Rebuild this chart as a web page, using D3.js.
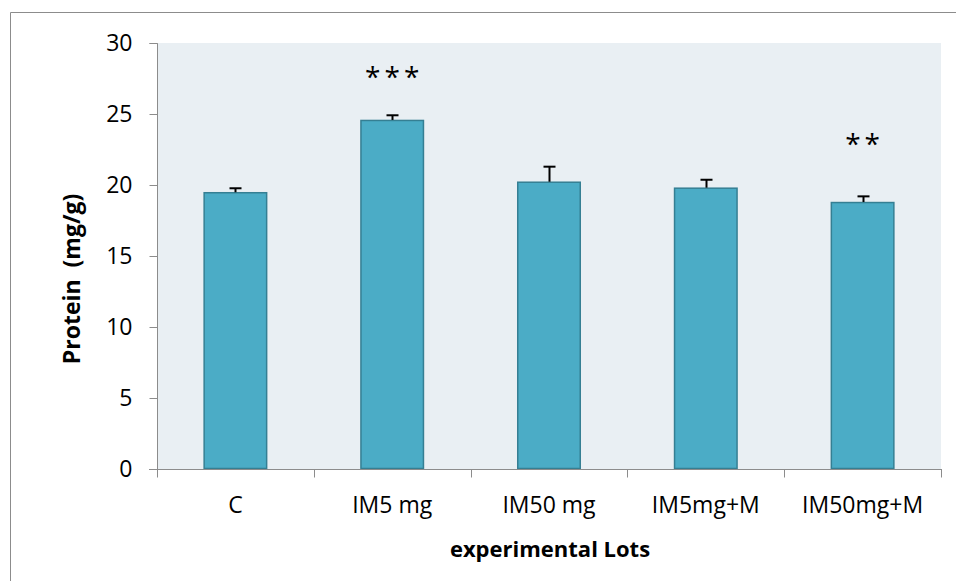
<!DOCTYPE html>
<html>
<head>
<meta charset="utf-8">
<script src="https://cdn.jsdelivr.net/npm/d3@7"></script>
<style>
  html, body { margin: 0; padding: 0; background: #ffffff; }
  svg { display: block; }
  text { font-family: "Open Sans", "Liberation Sans", sans-serif; fill: #000; }
</style>
</head>
<body>
<svg id="chart" width="956" height="581"></svg>
<script>
// Protein content per experimental lot (mean ± error)
const categories = ["C", "IM5 mg", "IM50 mg", "IM5mg+M", "IM50mg+M"];
const proteinMeans = [19.49, 24.58, 20.23, 19.81, 18.80];
const proteinErrors = [0.28, 0.33, 1.06, 0.56, 0.40];
const significance = ["", "***", "", "", "**"];
const yTicks = [0, 5, 10, 15, 20, 25, 30];

const svg = d3.select("#chart");
const W = 956, H = 581;
const plot = { left: 157, right: 941, top: 43, bottom: 469 };

// outer chart frame (left and top edges)
svg.append("path")
  .attr("d", `M10.5,${H} L10.5,12.5 L${W},12.5`)
  .attr("fill", "none").attr("stroke", "#8c8c8c").attr("stroke-width", 1);

// plot background
svg.append("rect")
  .attr("x", plot.left).attr("y", plot.top)
  .attr("width", plot.right - plot.left).attr("height", plot.bottom - plot.top)
  .attr("fill", "#e9eff3");

const x = d3.scaleBand().domain(categories).range([plot.left, plot.right]).paddingInner(0.595).paddingOuter(0.2975);
const xOuter = d3.scaleBand().domain(categories).range([plot.left, plot.right]).padding(0);
const y = d3.scaleLinear().domain([0, 30]).range([plot.bottom, plot.top]);

// bars
svg.append("g").selectAll("rect")
  .data(categories)
  .join("rect")
  .attr("x", d => x(d) + 0.5)
  .attr("y", (d, i) => y(proteinMeans[i]) + 0.5)
  .attr("width", x.bandwidth() - 1)
  .attr("height", (d, i) => y(0) - y(proteinMeans[i]) - 1)
  .attr("fill", "#4bacc6")
  .attr("stroke", "#357f93")
  .attr("stroke-width", 1.5);

// error bars (upper only)
const eb = svg.append("g").attr("stroke", "#000").attr("stroke-width", 2);
categories.forEach((c, i) => {
  const cx = Math.round(x(c) + x.bandwidth() / 2) + 0.5;
  const top = y(proteinMeans[i] + proteinErrors[i]);
  eb.append("line").attr("x1", cx).attr("x2", cx)
    .attr("y1", y(proteinMeans[i])).attr("y2", top);
  eb.append("line").attr("x1", cx - 6).attr("x2", cx + 6)
    .attr("y1", top).attr("y2", top);
});

// significance marks, lifted above each error-bar cap
const starLift = { "***": 28, "**": 42 };
svg.append("g").selectAll("text")
  .data(categories)
  .join("text")
  .attr("x", d => x(d) + x.bandwidth() / 2 + 2)
  .attr("y", (d, i) => y(proteinMeans[i] + proteinErrors[i]) - (starLift[significance[i]] || 0))
  .attr("text-anchor", "middle")
  .attr("font-size", 28)
  .attr("letter-spacing", 4)
  .text((d, i) => significance[i]);

// y axis
const yAxis = d3.axisLeft(y).tickValues(yTicks).tickSize(8).tickPadding(17).tickFormat(d3.format("d"));
const gy = svg.append("g").attr("transform", `translate(${plot.left + 0.5},0)`).call(yAxis);
gy.select(".domain").attr("stroke", "#8c8c8c").attr("d", `M-8,${plot.top + 0.5}H0V${plot.bottom + 0.5}`);
gy.selectAll(".tick line").attr("stroke", "#8c8c8c");
gy.selectAll(".tick text").attr("font-size", 23).attr("font-family", "Open Sans, sans-serif");

// x axis: ticks at category boundaries
const gx = svg.append("g").attr("transform", `translate(0,${plot.bottom + 0.5})`);
gx.append("line").attr("x1", plot.left - 8).attr("x2", plot.right + 1)
  .attr("stroke", "#8c8c8c");
const bounds = categories.map(c => xOuter(c)).concat([plot.right]);
gx.selectAll("line.tk").data(bounds).join("line").attr("class", "tk")
  .attr("x1", d => Math.round(d) + 0.5).attr("x2", d => Math.round(d) + 0.5)
  .attr("y1", 0).attr("y2", 8).attr("stroke", "#8c8c8c");
gx.selectAll("text").data(categories).join("text")
  .attr("x", d => xOuter(d) + xOuter.bandwidth() / 2)
  .attr("y", 43)
  .attr("text-anchor", "middle")
  .attr("font-size", 23)
  .text(d => d);

// axis titles
svg.append("text")
  .attr("x", 550).attr("y", 557)
  .attr("text-anchor", "middle")
  .attr("font-size", 22).attr("font-weight", "bold")
  .text("experimental Lots");

svg.append("text")
  .attr("transform", "translate(80,279) rotate(-90)")
  .attr("text-anchor", "middle")
  .attr("font-size", 23).attr("font-weight", "bold")
  .attr("xml:space", "preserve")
  .text("Protein  (mg/g)");
</script>
</body>
</html>
